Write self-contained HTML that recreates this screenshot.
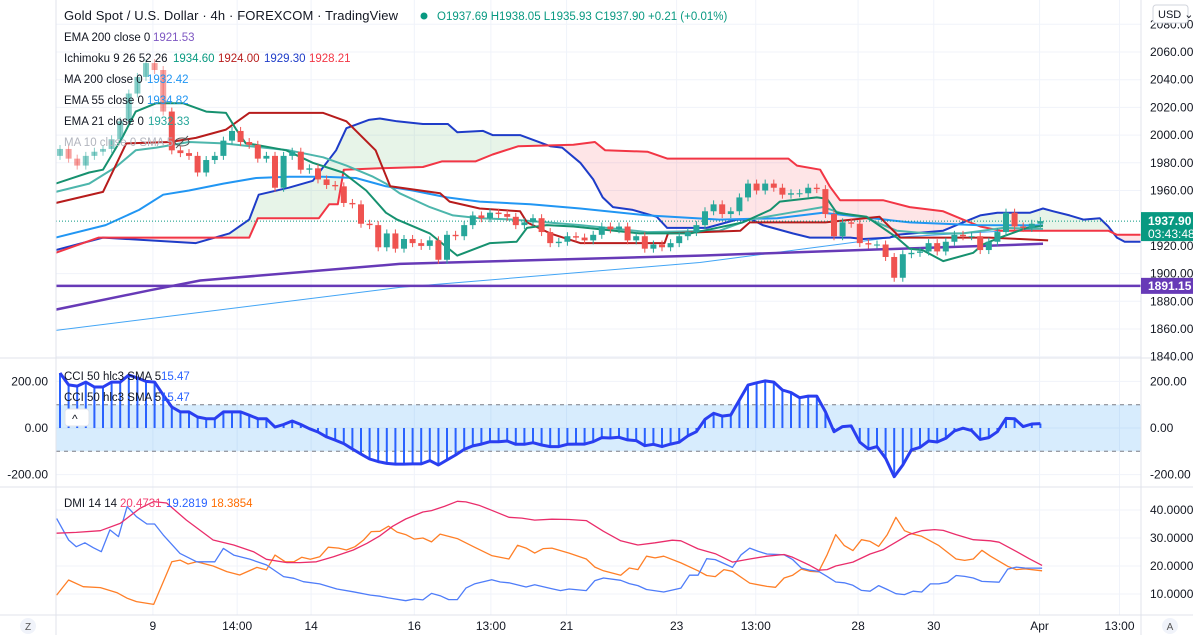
<!DOCTYPE html>
<html><head><meta charset="utf-8">
<style>
html,body{margin:0;padding:0;background:#fff;}
svg{display:block;font-family:"Liberation Sans",sans-serif;}
</style></head>
<body>
<svg id="chart" width="1193" height="635" viewBox="0 0 1193 635" xmlns="http://www.w3.org/2000/svg">
<defs>
<clipPath id="mainClip"><rect x="56" y="0" width="1085" height="358"/></clipPath>
<clipPath id="cciClip"><rect x="56" y="359" width="1085" height="128"/></clipPath>
<clipPath id="dmiClip"><rect x="56" y="488" width="1085" height="127"/></clipPath>
</defs>
<g id="grid"></g>
<g id="cloud" clip-path="url(#mainClip)"></g>
<g id="mainLines" clip-path="url(#mainClip)"></g>
<g id="candles" clip-path="url(#mainClip)"></g>
<g id="cci" clip-path="url(#cciClip)"></g>
<g id="dmi" clip-path="url(#dmiClip)"></g>
<g id="axes"></g>
<g id="legend" font-size="11.5" fill="#131722">
  <text x="64" y="20" font-size="13" textLength="334">Gold Spot / U.S. Dollar · 4h · FOREXCOM · TradingView</text>
  <circle cx="424" cy="16" r="3.5" fill="#089981"/>
  <text x="437" y="20" font-size="11.5" fill="#089981">O1937.69 H1938.05 L1935.93 C1937.90 +0.21 (+0.01%)</text>
  <text x="64" y="41">EMA 200 close 0</text>
  <text x="153" y="41" fill="#7e57c2">1921.53</text>
  <text x="64" y="62">Ichimoku 9 26 52 26</text>
  <text x="173" y="62" fill="#089981">1934.60</text>
  <text x="218" y="62" fill="#b71c1c">1924.00</text>
  <text x="264" y="62" fill="#1e3cc8">1929.30</text>
  <text x="309" y="62" fill="#f23645">1928.21</text>
  <text x="64" y="83">MA 200 close 0</text>
  <text x="147" y="83" fill="#2196f3">1932.42</text>
  <text x="64" y="104">EMA 55 close 0</text>
  <text x="147" y="104" fill="#2196f3">1934.82</text>
  <text x="64" y="125">EMA 21 close 0</text>
  <text x="148" y="125" fill="#26a69a">1932.33</text>
  <text x="64" y="146" fill="#b2b5be">MA 10 close 0 SMA 5</text>
  <g stroke="#555" fill="none" stroke-width="1"><ellipse cx="182" cy="142" rx="7" ry="4"/><line x1="176" y1="148" x2="188" y2="136"/></g>
  <text x="64" y="380">CCI 50 hlc3 SMA 5</text>
  <text x="161" y="380" fill="#2962ff">15.47</text>
  <text x="64" y="401">CCI 50 hlc3 SMA 5</text>
  <text x="161" y="401" fill="#2962ff">15.47</text>
  <g><rect x="65" y="409" width="24" height="17" rx="3" fill="#fff" stroke="#e0e3eb"/><text x="72" y="423" font-size="12">^</text></g>
  <text x="64" y="507">DMI 14 14</text>
  <text x="120" y="507" fill="#f23f6f">20.4731</text>
  <text x="166" y="507" fill="#2962ff">19.2819</text>
  <text x="211" y="507" fill="#ff6d00">18.3854</text>
</g>
</svg>
<script>
// ---------- data ----------
const closes = [1990,1983,1978,1985,1988,1990,1997,2010,2030,2042,2052,2047,2017,1989,1987,1985,1973,1982,1985,1996,2003,1995,1993,1983,1985,1962,1985,1988,1975,1976,1968,1964,1963,1951,1950,1936,1935,1919,1929,1918,1925,1922,1920,1924,1910,1928,1927,1935,1942,1940,1944,1943,1941,1935,1937,1940,1930,1922,1923,1927,1926,1924,1928,1934,1932,1934,1924,1927,1918,1921,1919,1922,1927,1930,1935,1945,1950,1943,1945,1955,1965,1960,1965,1962,1957,1958,1958,1962,1961,1943,1927,1937,1936,1922,1921,1921,1912,1897,1914,1915,1916,1922,1916,1923,1928,1927,1927,1917,1923,1930,1944,1934,1933,1936,1937.9];
const firstOpen = 1985;

const spanAT = [-0.5,5,15.8,19.7,22,23.1,26.6,29.4,32.1,33.3,35.9,37.2,39.2,42.2,45.1,46.2,49.2,50.3,53.5,57,58.4,60.5,62,63.1,64.3,66.6,69.4,70.6,72.9,75.2,78.7,80.5,81.7,85.2,87.2,91.9,93.4,96.5,97.3,102.7,105,107,109,112.8,114.3,115.5,117.4,119,120.9,121.9,122.9,123.8,125.7];
const spanAV = [1917,1926,1922,1929,1939,1957,1962,1967,1989,2005,2011,2012,2010,2008,2008,2002,2003,2000,2000,1992,1991,1980,1968,1955,1948,1946,1941,1933,1933,1933,1939,1939,1935,1929,1926,1926,1925,1926,1928,1931,1937,1942,1944,1944,1947,1945,1942,1939,1940,1934,1926,1923,1923];
const spanBT = [-0.5,4.5,22,23,30.1,31.3,32.3,33,37.2,42.2,44.4,48.3,50.3,53.3,59.7,62.2,63.4,68.3,70.6,84.7,85.7,88.4,89.5,90.7,95.7,98.8,102.7,105,107,109.3,121.9,122.9,125.7];
const spanBV = [1915,1926,1926,1940,1940,1950,1950,1975,1976,1977,1981,1981,1986,1992,1993,1995,1989,1988,1983,1983,1978,1975,1963,1953,1953,1948,1945,1939,1934,1931,1931,1928,1928];
const baseT = [-0.5,5,7.7,12.8,15.8,19.3,22,30.6,33.3,36.7,38.4,44.2,45.3,48.8,53.5,54.3,57,60.5,70.3,70.7,79.1,80.2,89,95.3,97.7,108.1,111.6,114.9];
const baseV = [1951,1959,1994,1995,1998,2004,2016,2016,2010,1989,1963,1958,1952,1947,1945,1937,1929,1922,1922,1929,1931,1937,1937,1941,1926,1926,1925,1924];
const convT = [-0.5,3.4,5,7.3,8.8,11.2,14.3,17,19.3,20.5,21.6,22.8,26.3,29.4,32.9,35.6,37.9,39.2,43,44.4,46.2,50,53.1,54.3,56.6,59.7,67.4,73.3,75.6,79.4,82.6,83.7,88,89.2,90.3,93.8,97.3,98.8,100.3,102.7,106.2,107.3,109.3,112.4,114.3];
const convV = [1965,1973,1975,1999,2017,2023,2023,2017,2016,2004,1994,1993,1989,1980,1973,1960,1944,1939,1929,1922,1913,1922,1923,1933,1935,1934,1929,1929,1932,1937,1946,1952,1955,1954,1944,1941,1926,1918,1917,1909,1915,1921,1926,1933,1934.6];
const ema21T = [-0.5,3.4,6.5,8.8,11.2,15,19,26.6,30.6,33.3,36.4,37.9,39.5,43,45.7,48.8,52.7,60.5,68.3,76.7,80.2,84.9,88.7,90.7,93.8,97.3,100.8,105,109.7,114.3];
const ema21V = [1959,1965,1977,1989,1991,1995,1994,1989,1984,1978,1970,1965,1958,1948,1942,1940,1939,1935,1930,1931,1939,1944,1948,1944,1940,1931,1929,1929,1933,1932.3];
const ema55T = [-0.5,5.3,9.2,12,15,19,22.8,26.6,30.6,34.4,37.9,41,45,48.8,54.7,60.5,68.3,76.7,83.4,88.7,93,98.8,106.6,114.3];
const ema55V = [1926,1935,1946,1957,1960,1965,1969,1970,1970,1969,1963,1960,1955,1952,1950,1947,1942,1939,1940,1944,1941,1937,1935,1934.8];
const ma200T = [-0.5,39.5,74.4,96.5,114.3];
const ma200V = [1859,1890,1908,1926,1932.4];
const ema200T = [-0.5,10.5,16.3,39.5,74.4,114.3];
const ema200V = [1874,1888,1895,1907,1913,1921.5];
const supportLevel = 1891.15;
const lastPrice = 1937.90;

const cciValues = [236,185,180,197,176,176,197,197,227,215,200,197,142,90,69,69,47,40,40,69,69,69,55,40,40,4,15,30,15,-3,-17,-38,-52,-67,-90,-112,-133,
-144,-152,-155,-155,-154,-154,-140,-159,-137,-116,-92,-77,-69,-59,-59,-56,-70,-70,-63,-73,-80,-80,-70,-69,-69,-59,-41,-43,-40,-51,-54,-76,-70,-80,-69,-61,-34,-16,37,63,51,56,120,184,194,202,197,163,152,130,137,137,70,-16,6,9,-61,-90,-80,-130,-209,-159,-94,-83,-56,-60,-44,-13,-1,-11,-49,-41,-16,41,40,6,17,19];

const adxT = [-0.4,1.9,4.7,7.0,9.3,10.9,12.4,14.7,17.8,20.2,22.5,24.0,26.4,27.9,29.8,31.8,34.1,35.7,37.2,38.7,40.2,42.2,43.2,44.7,46.2,47.2,48.7,50.2,52.2,53.7,55.2,57.2,59.2,61.2,63.2,65.2,67.2,69.2,71.2,72.2,74.2,76.2,78.2,80.2,82.2,84.2,85.2,87.2,88.2,89.2,90.2,92.2,94.2,95.7,97.2,98.7,100.2,101.7,102.7,104.2,106.2,108.2,109.2,111.2,112.7,114.2];
const adxV = [31.7,32.0,32.6,35.2,40.6,43.0,42.5,36.4,29.3,27.5,25.1,22.4,21.2,21.2,21.5,23.3,25.7,28.1,30.8,34.2,36.8,39.3,39.8,41.3,43.1,42.9,41.7,39.9,37.4,37.1,36.4,36.7,36.6,36.2,32.4,29.0,27.5,28.3,29.2,29.0,26.1,24.4,21.4,22.5,23.5,24.1,23.1,20.2,18.5,18.7,20.0,21.4,24.3,25.8,28.5,31.2,32.6,33.0,32.7,31.2,29.4,29.0,28.5,25.2,22.6,20.2];
const diPlusT = [-0.4,1.0,1.9,2.9,3.9,4.8,5.8,6.8,7.8,8.9,10.1,11.0,12.0,13.95,15.9,18.0,19.0,20.2,22.1,24.0,26.0,27.2,28.3,30.2,32.2,34.1,36.1,
37.2,38.2,40.2,41.2,42.2,43.2,44.2,45.2,46.2,47.2,48.2,50.2,51.2,52.2,54.2,55.2,57.2,58.2,59.2,61.2,62.2,63.2,65.2,66.2,67.2,68.2,70.2,72.2,73.2,74.2,75.2,76.2,78.2,79.2,80.2,81.2,82.2,84.2,85.2,86.2,87.2,88.2,89.2,90.2,91.2,92.2,93.2,94.2,95.2,96.2,97.2,98.2,99.2,100.2,101.2,102.2,103.2,104.2,105.2,106.2,107.2,109.2,110.2,111.2,112.2,114.2];
const diPlusV = [37.0,29.3,26.9,28.3,26.5,25.1,32.9,30.5,41.2,37.6,35.0,35.0,31.1,24.5,21.5,21.5,26.3,23.9,22.4,20.4,16.2,15.6,14.4,13.6,11.8,10.8,9.6,
9.2,8.6,7.6,8.2,7.9,10.2,9.4,8.0,8.0,12.1,13.6,15.1,14.3,14.0,12.5,13.3,11.9,11.2,11.8,11.2,14.8,15.7,14.9,13.7,13.0,11.6,10.7,12.1,16.7,16.7,22.6,22.3,19.5,24.0,26.4,25.2,24.3,24.0,22.3,19.3,18.5,18.1,16.3,14.3,14.0,13.1,11.3,11.0,13.0,11.6,10.1,9.8,11.0,10.7,13.6,13.6,14.2,16.6,16.3,15.7,14.5,14.2,18.9,19.6,19.3,19.2];
const diMinusT = [-0.4,1.0,2.7,4.7,6.6,7.8,8.9,10.9,13.0,13.95,14.9,15.9,17.8,19.4,20.9,22.9,24.0,25.0,26.2,27.2,28.1,29.1,30.2,31.2,32.4,33.3,34.3,35.3,36.2,
37.2,38.2,39.2,40.2,41.2,42.2,43.2,44.2,46.2,48.2,50.2,52.2,53.2,54.2,55.2,56.2,57.2,59.2,61.2,62.2,63.2,65.2,66.2,67.2,68.2,69.2,70.2,72.2,74.2,75.2,76.2,77.2,78.2,80.2,82.2,83.2,84.2,85.2,86.2,87.2,88.2,89.2,90.2,91.2,92.2,93.2,94.2,95.2,96.2,97.2,98.2,99.2,100.2,102.2,104.2,105.2,106.2,107.2,108.2,110.2,111.2,112.2,114.2];
const diMinusV = [9.6,15.0,12.6,12.3,10.5,8.5,7.3,6.3,21.5,22.1,20.7,21.5,20.0,18.0,16.8,19.5,18.6,23.9,21.5,21.5,23.1,22.4,23.3,26.7,26.4,25.7,26.9,29.3,32.3,
32.4,34.2,32.1,31.2,29.6,30.0,28.6,31.4,29.8,26.7,23.7,22.5,27.4,26.4,24.6,26.2,26.4,24.6,22.5,19.6,18.3,16.7,19.3,18.7,23.5,22.9,23.5,21.1,18.3,16.6,16.2,18.7,18.1,13.9,12.7,12.4,15.7,16.7,18.9,18.1,17.9,24.0,31.2,27.3,25.5,29.4,28.8,27.0,31.2,37.4,32.6,31.4,30.6,27.3,22.5,22.0,22.5,25.6,23.5,19.9,18.7,19.0,18.3];

const priceTicks = [2080,2060,2040,2020,2000,1980,1960,1920,1900,1880,1860,1840];
const cciTicks = [200,0,-200];
const dmiTicks = [40,30,20,10];
const timeLabels = ["9","14:00","14","16","13:00","21","23","13:00","28","30","Apr","13:00"];
const timeBars = [10.8,20.6,29.2,41.2,50.1,58.9,71.7,80.9,92.8,101.6,113.9,123.2];

// ---------- scales ----------
const xb = i => 60 + i * 8.6;
const py = p => 52 + (2060 - p) * 1.385;
const cy = v => 428 - v * 0.233;
const dy = v => 622 - v * 2.8;
const NS = "http://www.w3.org/2000/svg";
function mk(tag, attrs, parent){ const e=document.createElementNS(NS,tag); for(const k in attrs) e.setAttribute(k,attrs[k]); parent.appendChild(e); return e; }
const $ = id => document.getElementById(id);

// grid
const grid = $('grid');
priceTicks.forEach(p=>{ const l=mk('line',{x1:56,x2:1141,y1:py(p),y2:py(p),stroke:'#f0f3fa'},grid);

 });
cciTicks.forEach(v=>{ const l=mk('line',{x1:56,x2:1141,y1:cy(v),y2:cy(v),stroke:'#f0f3fa'},grid);

 });
dmiTicks.forEach(v=>{ const l=mk('line',{x1:56,x2:1141,y1:dy(v),y2:dy(v),stroke:'#f0f3fa'},grid);

 });
timeBars.forEach(b=>{ const l=mk('line',{x1:xb(b),x2:xb(b),y1:0,y2:615,stroke:'#f0f3fa'},grid);

 });

function interp(T,V,t){ if(t<=T[0]) return V[0]; for(let k=1;k<T.length;k++){ if(t<=T[k]){ const f=(t-T[k-1])/(T[k]-T[k-1]); return V[k-1]+f*(V[k]-V[k-1]); } } return V[V.length-1]; }
const cloud=$('cloud');
for(let x=56;x<1141;x++){
  const t=(x-60)/8.6, a=py(interp(spanAT,spanAV,t)), b=py(interp(spanBT,spanBV,t));
  const r=mk('rect',{x:x,y:Math.min(a,b),width:1.2,height:Math.abs(a-b),fill: a<b ? 'rgba(76,175,80,0.11)' : 'rgba(242,54,69,0.11)'},cloud);
  
  
}

function line(T,V,ys,color,w,name,parent){
  const d=T.map((t,k)=>(k?'L':'M')+xb(t).toFixed(1)+' '+ys(V[k]).toFixed(1)).join(' ');
  const p=mk('path',{d:d,fill:'none',stroke:color,'stroke-width':w,'stroke-linejoin':'round'},parent);
  
  
}
const ml=$('mainLines');
line(ma200T,ma200V,py,'#42a5f5',1,'ma200-line',ml);
line(ema200T,ema200V,py,'#673ab7',2.5,'ema200-line',ml);
line(spanAT,spanAV,py,'#1e3cc8',2,'ichimoku-span-a',ml);
line(spanBT,spanBV,py,'#f23645',2,'ichimoku-span-b',ml);
line(ema55T,ema55V,py,'#2196f3',2,'ema55-line',ml);
line(ema21T,ema21V,py,'#4db6ac',2,'ema21-line',ml);
line(baseT,baseV,py,'#b71c1c',2,'ichimoku-base-line',ml);
line(convT,convV,py,'#16916f',2,'ichimoku-conversion-line',ml);
const sl=mk('line',{x1:56,x2:1141,y1:py(supportLevel),y2:py(supportLevel),stroke:'#673ab7','stroke-width':2.5},ml);


const lp=mk('line',{x1:56,x2:1141,y1:py(lastPrice),y2:py(lastPrice),stroke:'#089981','stroke-width':1,'stroke-dasharray':'1 2'},ml);



// candles
const cg=$('candles');
closes.forEach((c,i)=>{
  const o = i===0 ? firstOpen : closes[i-1];
  const up=c>=o, col= up ? '#26a69a' : '#ef5350';
  const x=xb(i), top=py(Math.max(o,c)), bot=py(Math.min(o,c));
  const op = i<13 ? 0.55 : 1;
  const w=mk('line',{x1:x,x2:x,y1:top-4,y2:bot+4,stroke:col,'stroke-width':1,opacity:op},cg);
  
  
  const b=mk('rect',{x:x-3,y:top,width:6,height:Math.max(1,bot-top),fill:col,opacity:op},cg);
  
  
});

// CCI
const cci=$('cci');
const band=mk('rect',{x:56,y:cy(100),width:1085,height:cy(-100)-cy(100),fill:'rgba(33,150,243,0.18)'},cci);


[100,-100].forEach(v=>{ const l=mk('line',{x1:56,x2:1141,y1:cy(v),y2:cy(v),stroke:'#787b86','stroke-dasharray':'4 4'},cci);

 });
cciValues.forEach((v,i)=>{ const l=mk('line',{x1:xb(i),x2:xb(i),y1:cy(0),y2:cy(v),stroke:'#2962ff','stroke-width':2},cci);

 });
line(cciValues.map((v,i)=>i),cciValues,cy,'#2a3ef0',3,'cci-line',cci);

// DMI
const dmi=$('dmi');
line(diMinusT,diMinusV,dy,'#ff7f27',1.3,'dmi-minus-di',dmi);
line(diPlusT,diPlusV,dy,'#4f7df9',1.3,'dmi-plus-di',dmi);
line(adxT,adxV,dy,'#ea2d6b',1.3,'dmi-adx',dmi);

// axes
const ax=$('axes');
function txt(x,y,s,attrs,name){ const t=mk('text',Object.assign({x:x,y:y,'font-size':12,fill:'#131722'},attrs||{}),ax); t.textContent=s;

 return t; }
[[0,358,1193,358],[0,487,1193,487],[0,615,1193,615],[56,0,56,635],[1141,0,1141,635]].forEach(a=>{
  const l=mk('line',{x1:a[0],y1:a[1],x2:a[2],y2:a[3],stroke:'#e0e3eb'},ax);
  
  
});
priceTicks.forEach(p=>txt(1150,py(p)+4,p.toFixed(2),{},'price-tick-label'));
cciTicks.forEach(v=>{ txt(1150,cy(v)+4,v.toFixed(2),{},'cci-right-tick-label'); txt(48,cy(v)+4,v.toFixed(2),{'text-anchor':'end'},'cci-left-tick-label'); });
dmiTicks.forEach(v=>txt(1150,dy(v)+4,v.toFixed(4),{},'dmi-tick-label'));
timeLabels.forEach((s,k)=>txt(xb(timeBars[k]),630,s,{'text-anchor':'middle'},'time-tick-label'));
const t1=mk('rect',{x:1141,y:py(lastPrice)-9,width:52,height:29,fill:'#089981'},ax);


txt(1148,py(lastPrice)+4,lastPrice.toFixed(2),{fill:'#fff','font-weight':'bold'},'last-price-value');
txt(1148,py(lastPrice)+17,'03:43:48',{fill:'#fff'},'bar-countdown');
const t2=mk('rect',{x:1141,y:py(supportLevel)-8,width:52,height:16,fill:'#673ab7'},ax);


txt(1148,py(supportLevel)+4,supportLevel.toFixed(2),{fill:'#fff','font-weight':'bold'},'support-price-value');
const ub=mk('rect',{x:1153,y:5,width:35,height:18,rx:3,fill:'#fff',stroke:'#d1d4dc'},ax);


txt(1158,18,'USD ⌄',{'font-size':11},'currency-label');
const zc=mk('circle',{cx:28,cy:626,r:8,fill:'#f0f3fa'},ax);


txt(28,630,'Z',{'text-anchor':'middle','font-size':10,fill:'#555'},'zoom-label');
const ac=mk('circle',{cx:1170,cy:626,r:8,fill:'#f0f3fa'},ax);


txt(1170,630,'A',{'text-anchor':'middle','font-size':10,fill:'#555'},'auto-scale-label');
</script>
</body></html>
